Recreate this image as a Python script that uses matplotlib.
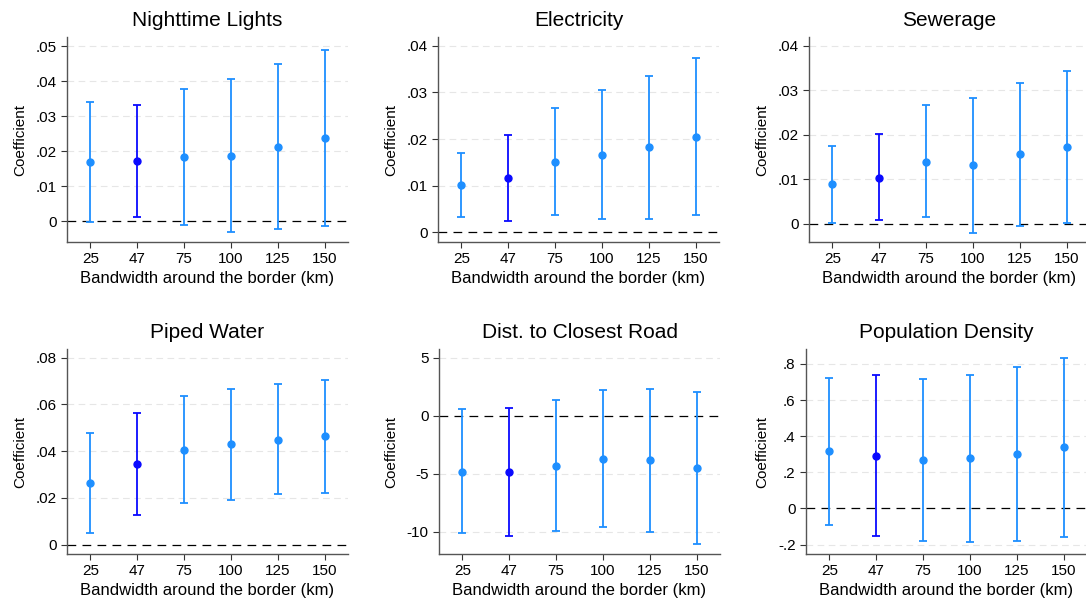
import matplotlib.pyplot as plt
import numpy as np

plt.rcParams['font.family'] = ['Liberation Sans', 'DejaVu Sans']

bandwidths = ["25", "47", "75", "100", "125", "150"]
highlight = "47"

titles = ["Nighttime Lights", "Electricity", "Sewerage",
          "Piped Water", "Dist. to Closest Road", "Population Density"]

# point estimates and 95% CI bounds, per outcome
lights_coef = [0.0168, 0.0172, 0.0183, 0.0187, 0.0212, 0.0236]
lights_lo = [-0.0002, 0.0012, -0.0011, -0.0031, -0.0023, -0.0015]
lights_hi = [0.0339, 0.0333, 0.0376, 0.0405, 0.0448, 0.0488]

elec_coef = [0.0102, 0.0116, 0.0151, 0.0166, 0.0182, 0.0205]
elec_lo = [0.0033, 0.0024, 0.0037, 0.0029, 0.0029, 0.0037]
elec_hi = [0.0171, 0.0209, 0.0267, 0.0305, 0.0335, 0.0373]

sewer_coef = [0.0089, 0.0104, 0.0140, 0.0132, 0.0156, 0.0173]
sewer_lo = [0.0002, 0.0008, 0.0015, -0.0020, -0.0005, 0.0002]
sewer_hi = [0.0176, 0.0201, 0.0266, 0.0283, 0.0317, 0.0344]

water_coef = [0.0263, 0.0345, 0.0405, 0.0429, 0.0449, 0.0464]
water_lo = [0.0049, 0.0126, 0.0177, 0.0192, 0.0215, 0.0223]
water_hi = [0.0477, 0.0564, 0.0634, 0.0665, 0.0686, 0.0704]

road_coef = [-4.83, -4.86, -4.31, -3.73, -3.87, -4.51]
road_lo = [-10.17, -10.35, -9.97, -9.60, -10.00, -11.10]
road_hi = [0.58, 0.66, 1.39, 2.17, 2.28, 2.08]

pop_coef = [0.317, 0.293, 0.267, 0.278, 0.300, 0.339]
pop_lo = [-0.089, -0.150, -0.178, -0.183, -0.181, -0.156]
pop_hi = [0.724, 0.737, 0.715, 0.739, 0.783, 0.833]

yticks = [
    ([0, 0.01, 0.02, 0.03, 0.04, 0.05], ["0", ".01", ".02", ".03", ".04", ".05"]),
    ([0, 0.01, 0.02, 0.03, 0.04], ["0", ".01", ".02", ".03", ".04"]),
    ([0, 0.01, 0.02, 0.03, 0.04], ["0", ".01", ".02", ".03", ".04"]),
    ([0, 0.02, 0.04, 0.06, 0.08], ["0", ".02", ".04", ".06", ".08"]),
    ([-10, -5, 0, 5], ["-10", "-5", "0", "5"]),
    ([-0.2, 0, 0.2, 0.4, 0.6, 0.8], ["-.2", "0", ".2", ".4", ".6", ".8"]),
]
ylims = [(-0.006, 0.0526), (-0.0021, 0.0419), (-0.0041, 0.042),
         (-0.004, 0.0837), (-11.94, 5.75), (-0.252, 0.883)]

panels = [
    (lights_coef, lights_lo, lights_hi),
    (elec_coef, elec_lo, elec_hi),
    (sewer_coef, sewer_lo, sewer_hi),
    (water_coef, water_lo, water_hi),
    (road_coef, road_lo, road_hi),
    (pop_coef, pop_lo, pop_hi),
]

W, H = 1086, 603
# axes boxes in pixels: left, top, right, bottom
boxes = [(67, 37, 348, 242), (438, 37, 719, 242), (809, 37, 1090, 242),
         (67, 349, 348, 554), (439, 349, 720, 554), (806, 349, 1087, 554)]

light = "#1e8fff"
dark = "#0a0aff"

fig = plt.figure(figsize=(W / 100, H / 100), dpi=100)

for i, (coef, lo, hi) in enumerate(panels):
    l, t, r, b = boxes[i]
    ax = fig.add_axes([l / W, 1 - b / H, (r - l) / W, (b - t) / H])
    x = np.arange(len(bandwidths))
    for j, bw in enumerate(bandwidths):
        c = dark if bw == highlight else light
        ax.errorbar(x[j], coef[j], yerr=[[coef[j] - lo[j]], [hi[j] - coef[j]]],
                    fmt="o", color=c, ecolor=c, markersize=5, elinewidth=1.3,
                    capsize=3, capthick=1.3, zorder=3)
    ax.axhline(0, color="black", lw=0.9, ls=(0, (7, 5)), zorder=2)
    ticks, labels = yticks[i]
    for tv in ticks:
        if tv != 0:
            ax.axhline(tv, color="#e6e6e6", lw=0.8, ls=(0, (6, 4)), zorder=1)
    ax.set_yticks(ticks)
    ax.set_yticklabels(labels)
    ax.set_ylim(*ylims[i])
    ax.set_xticks(x)
    ax.set_xticklabels(bandwidths)
    ax.set_xlim(-0.5, len(bandwidths) - 0.5)
    ax.set_title(titles[i], fontsize=15, pad=8)
    ax.set_xlabel("Bandwidth around the border (km)", fontsize=12, labelpad=3)
    ax.set_ylabel("Coefficient", fontsize=11, labelpad=6)
    ax.tick_params(labelsize=11, length=4, width=0.8, color="#333333")
    for s in ["top", "right"]:
        ax.spines[s].set_visible(False)
    for s in ["left", "bottom"]:
        ax.spines[s].set_color("#555555")
        ax.spines[s].set_linewidth(1.0)

fig.savefig("out.png", dpi=100)
